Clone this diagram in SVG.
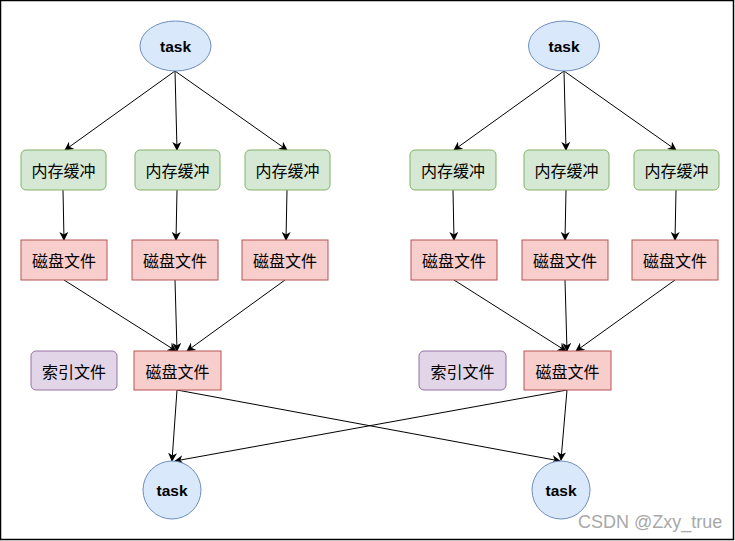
<svg xmlns="http://www.w3.org/2000/svg" width="735" height="541" viewBox="0 0 735 541">
<style>
.task{fill:#dae8fc;stroke:#6c8ebf;stroke-width:1}
.mem{fill:#d5e8d4;stroke:#82b366;stroke-width:1}
.disk{fill:#f8cecc;stroke:#b85450;stroke-width:1}
.idx{fill:#e1d5e7;stroke:#9673a6;stroke-width:1}
.t{font-family:"Liberation Sans",Arial,sans-serif;font-weight:bold;font-size:15.5px;fill:#000;text-anchor:middle;dominant-baseline:central}
.c{font-family:"Noto Sans CJK SC","Liberation Sans",sans-serif;font-size:16px;fill:#000;text-anchor:middle;dominant-baseline:central}
.e{fill:none;stroke:#000;stroke-width:1;marker-end:url(#arr)}
.wm{font-family:"Liberation Sans",Arial,sans-serif;font-size:18px;fill:#a8a8a8}
</style>
<defs>
<marker id="arr" viewBox="0 0 10 10" refX="9" refY="5" markerWidth="9" markerHeight="9" orient="auto" markerUnits="userSpaceOnUse">
<path d="M0,0 L10,5 L0,10 L3,5 Z" fill="#000"/>
</marker>
</defs>
<rect x="0.5" y="0.5" width="733" height="539" fill="#fff" stroke="#000" stroke-width="1.5"/>
<g id="connectors">
<path class="e" d="M175,71 L65,150"/>
<path class="e" d="M175,71 L177,150"/>
<path class="e" d="M175,71 L287,150"/>
<path class="e" d="M63,190 L64,240"/>
<path class="e" d="M177,190 L176,240"/>
<path class="e" d="M287,190 L286,240"/>
<path class="e" d="M64,280 L176,351"/>
<path class="e" d="M175,280 L177,351"/>
<path class="e" d="M285,280 L187,351"/>
<path class="e" d="M177,390 L172,461"/>
<path class="e" d="M177,390 L560,461"/>
<path class="e" d="M564,71 L454,150"/>
<path class="e" d="M564,71 L566,150"/>
<path class="e" d="M564,71 L676,150"/>
<path class="e" d="M453,190 L454,240"/>
<path class="e" d="M566,190 L565,240"/>
<path class="e" d="M676,190 L675,240"/>
<path class="e" d="M454,280 L566,351"/>
<path class="e" d="M565,280 L567,351"/>
<path class="e" d="M675,280 L576,351"/>
<path class="e" d="M567,390 L561,460"/>
<path class="e" d="M567,390 L175,461"/>
</g>
<g id="taskL"><ellipse class="task" cx="175.5" cy="46" rx="35.5" ry="25"/><text class="t" x="175.5" y="46">task</text></g>
<g id="memL1"><rect class="mem" x="21" y="150" width="85" height="40" rx="5"/><text class="c" x="63.5" y="170">内存缓冲</text></g>
<g id="memL2"><rect class="mem" x="135" y="150" width="85" height="40" rx="5"/><text class="c" x="177.5" y="170">内存缓冲</text></g>
<g id="memL3"><rect class="mem" x="245" y="150" width="85" height="40" rx="5"/><text class="c" x="287.5" y="170">内存缓冲</text></g>
<g id="diskL1"><rect class="disk" x="21" y="240" width="86" height="40"/><text class="c" x="64" y="260">磁盘文件</text></g>
<g id="diskL2"><rect class="disk" x="132" y="240" width="86" height="40"/><text class="c" x="175" y="260">磁盘文件</text></g>
<g id="diskL3"><rect class="disk" x="242" y="240" width="86" height="40"/><text class="c" x="285" y="260">磁盘文件</text></g>
<g id="idxL"><rect class="idx" x="31" y="351" width="86" height="39" rx="5"/><text class="c" x="74" y="370.5">索引文件</text></g>
<g id="diskLM"><rect class="disk" x="134" y="351" width="87" height="39"/><text class="c" x="177.5" y="370.5">磁盘文件</text></g>
<g id="taskLB"><circle class="task" cx="172" cy="490" r="29"/><text class="t" x="172" y="490">task</text></g>
<g id="taskR"><ellipse class="task" cx="564" cy="46" rx="35.5" ry="25"/><text class="t" x="564" y="46">task</text></g>
<g id="memR1"><rect class="mem" x="410" y="150" width="86" height="40" rx="5"/><text class="c" x="453" y="170">内存缓冲</text></g>
<g id="memR2"><rect class="mem" x="524" y="150" width="85" height="40" rx="5"/><text class="c" x="566.5" y="170">内存缓冲</text></g>
<g id="memR3"><rect class="mem" x="634" y="150" width="85" height="40" rx="5"/><text class="c" x="676.5" y="170">内存缓冲</text></g>
<g id="diskR1"><rect class="disk" x="411" y="240" width="86" height="40"/><text class="c" x="454" y="260">磁盘文件</text></g>
<g id="diskR2"><rect class="disk" x="522" y="240" width="86" height="40"/><text class="c" x="565" y="260">磁盘文件</text></g>
<g id="diskR3"><rect class="disk" x="632" y="240" width="86" height="40"/><text class="c" x="675" y="260">磁盘文件</text></g>
<g id="idxR"><rect class="idx" x="419" y="351" width="87" height="39" rx="5"/><text class="c" x="462.5" y="370.5">索引文件</text></g>
<g id="diskRM"><rect class="disk" x="524" y="351" width="87" height="39"/><text class="c" x="567.5" y="370.5">磁盘文件</text></g>
<g id="taskRB"><circle class="task" cx="561" cy="490" r="29"/><text class="t" x="561" y="490">task</text></g>
<text class="wm" x="578" y="528">CSDN @Zxy_true</text>
</svg>
